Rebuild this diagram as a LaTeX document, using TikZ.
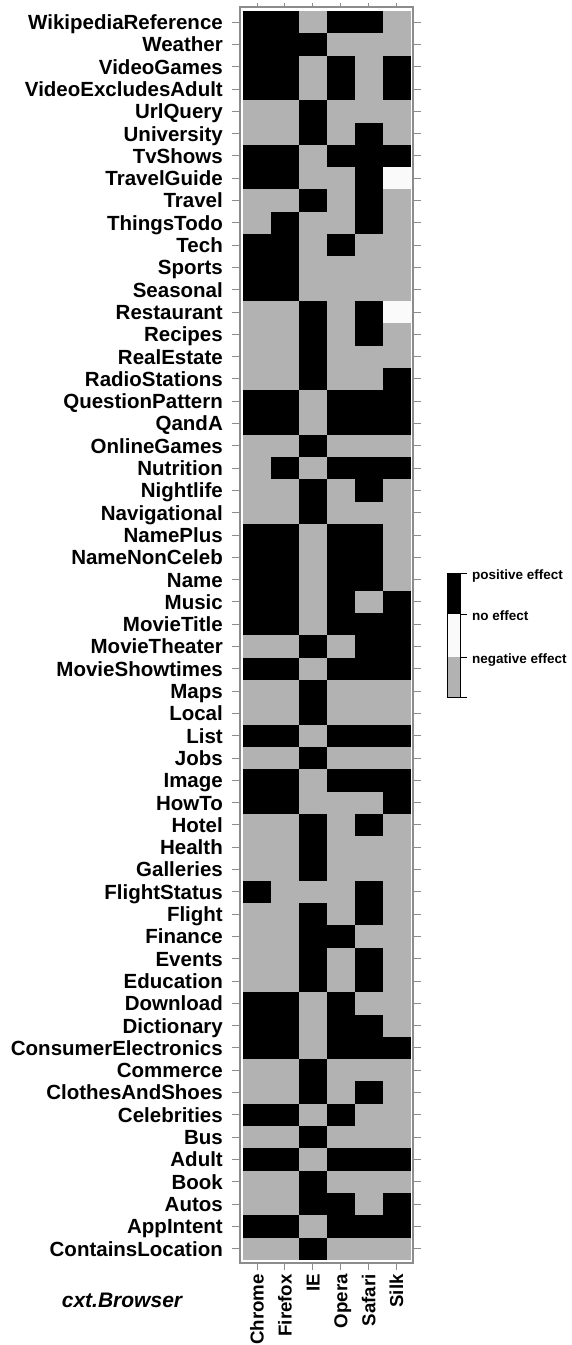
\documentclass[tikz,border=0pt]{standalone}
\usepackage{fontspec}
\setmainfont{Liberation Sans}
\usepackage{tikz}
\usetikzlibrary{positioning,calc}
\definecolor{eff0}{RGB}{178,178,178}
\definecolor{eff1}{RGB}{0,0,0}
\definecolor{eff2}{RGB}{250,250,250}
\definecolor{framegray}{RGB}{140,140,140}

\begin{document}
\begin{tikzpicture}[x=1pt, y=-1pt, font=\bfseries]
	\tikzstyle{rowlab}=[anchor=east,inner sep=0pt,text height=14.7pt,text depth=0pt,text=black,font=\fontsize{20.5}{22}\selectfont\bfseries]
	\tikzstyle{collab}=[anchor=east,rotate=90,inner sep=0pt,text height=13.4pt,text depth=0pt,text=black,font=\fontsize{18.7}{20}\selectfont\bfseries]
	\tikzstyle{keylab}=[anchor=west,inner sep=0pt,text height=9.7pt,text depth=0pt,text=black,font=\fontsize{13.5}{15}\selectfont\bfseries]
	\tikzstyle{tick}=[framegray,line width=1pt]
	\useasboundingbox (0,0) rectangle (572,1345);

	\foreach \lab/\cells [count=\r] in {
		WikipediaReference/{1,1,0,1,1,0}, Weather/{1,1,1,0,0,0},
		VideoGames/{1,1,0,1,0,1}, VideoExcludesAdult/{1,1,0,1,0,1},
		UrlQuery/{0,0,1,0,0,0}, University/{0,0,1,0,1,0},
		TvShows/{1,1,0,1,1,1}, TravelGuide/{1,1,0,0,1,2},
		Travel/{0,0,1,0,1,0}, ThingsTodo/{0,1,0,0,1,0},
		Tech/{1,1,0,1,0,0}, Sports/{1,1,0,0,0,0},
		Seasonal/{1,1,0,0,0,0}, Restaurant/{0,0,1,0,1,2},
		Recipes/{0,0,1,0,1,0}, RealEstate/{0,0,1,0,0,0},
		RadioStations/{0,0,1,0,0,1}, QuestionPattern/{1,1,0,1,1,1},
		QandA/{1,1,0,1,1,1}, OnlineGames/{0,0,1,0,0,0},
		Nutrition/{0,1,0,1,1,1}, Nightlife/{0,0,1,0,1,0},
		Navigational/{0,0,1,0,0,0}, NamePlus/{1,1,0,1,1,0},
		NameNonCeleb/{1,1,0,1,1,0}, Name/{1,1,0,1,1,0},
		Music/{1,1,0,1,0,1}, MovieTitle/{1,1,0,1,1,1},
		MovieTheater/{0,0,1,0,1,1}, MovieShowtimes/{1,1,0,1,1,1},
		Maps/{0,0,1,0,0,0}, Local/{0,0,1,0,0,0},
		List/{1,1,0,1,1,1}, Jobs/{0,0,1,0,0,0},
		Image/{1,1,0,1,1,1}, HowTo/{1,1,0,0,0,1},
		Hotel/{0,0,1,0,1,0}, Health/{0,0,1,0,0,0},
		Galleries/{0,0,1,0,0,0}, FlightStatus/{1,0,0,0,1,0},
		Flight/{0,0,1,0,1,0}, Finance/{0,0,1,1,0,0},
		Events/{0,0,1,0,1,0}, Education/{0,0,1,0,1,0},
		Download/{1,1,0,1,0,0}, Dictionary/{1,1,0,1,1,0},
		ConsumerElectronics/{1,1,0,1,1,1}, Commerce/{0,0,1,0,0,0},
		ClothesAndShoes/{0,0,1,0,1,0}, Celebrities/{1,1,0,1,0,0},
		Bus/{0,0,1,0,0,0}, Adult/{1,1,0,1,1,1},
		Book/{0,0,1,0,0,0}, Autos/{0,0,1,1,0,1},
		AppIntent/{1,1,0,1,1,1}, ContainsLocation/{0,0,1,0,0,0}}
	{
		\foreach \v [count=\c] in \cells
			\fill[eff\v] ({243+27.9*(\c-1)},{11+22.3*(\r-1)}) rectangle ++(28.2,22.6);
		\node[rowlab] (R\r) at (223,{11+22.3*(\r-0.5)}) {\lab};
		\draw[tick] (232,{11+22.3*(\r-0.5)}) -- (240,{11+22.3*(\r-0.5)});
		\draw[tick] (413,{11+22.3*(\r-0.5)}) -- (421,{11+22.3*(\r-0.5)});
	}

	\foreach \br [count=\c] in {Chrome,Firefox,IE,Opera,Safari,Silk}
	{
		\node[collab] (B\c) at ({257+27.9*(\c-1)},1274) {\br};
		\draw[tick] ({257+27.9*(\c-1)},3) -- ({257+27.9*(\c-1)},7);
		\draw[tick] ({257+27.9*(\c-1)},1263) -- ({257+27.9*(\c-1)},1270);
	}
	\draw[framegray,line width=1.2pt] (240,7) rectangle (413,1263);

	\node[font=\fontsize{21}{24}\selectfont\bfseries\itshape] (T) at (122,1300) {cxt.Browser};

	% colour key
	\fill[eff1] (447,573) rectangle (460,614);
	\fill[eff2] (447,614) rectangle (460,657);
	\fill[eff0] (447,657) rectangle (460,697);
	\draw[line width=0.8pt] (447,573) rectangle (460,697);
	\foreach \k in {573,614,657,697}
		\draw[line width=0.8pt] (460,\k) -- (467,\k);
	\node[keylab] (Kp) at (472,575) {positive effect};
	\node[keylab] (Kn) at (472,616) {no effect};
	\node[keylab] (Kg) at (472,659) {negative effect};
\end{tikzpicture}
\end{document}
